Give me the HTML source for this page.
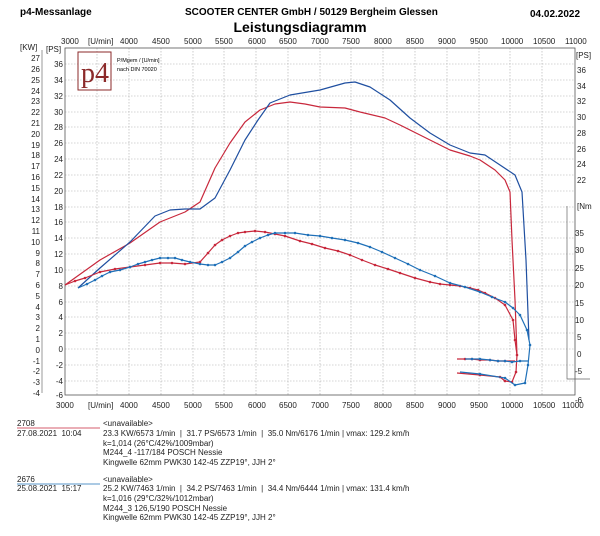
<!DOCTYPE html><html><head><meta charset="utf-8"><style>
body{margin:0;background:#fff;width:600px;height:531px;overflow:hidden;font-family:"Liberation Sans",sans-serif;}
</style></head><body>
<svg width="600" height="531" xmlns="http://www.w3.org/2000/svg" font-family="Liberation Sans, sans-serif">
<defs>
<marker id="mr" markerWidth="4" markerHeight="4" refX="2" refY="2" markerUnits="userSpaceOnUse"><circle cx="2" cy="2" r="1.3" fill="#c8283c"/></marker>
<marker id="mb" markerWidth="4" markerHeight="4" refX="2" refY="2" markerUnits="userSpaceOnUse"><circle cx="2" cy="2" r="1.3" fill="#1f70b8"/></marker>
</defs>
<text x="20" y="15" font-size="10" font-weight="bold">p4-Messanlage</text>
<text x="185" y="15" font-size="10" font-weight="bold">SCOOTER CENTER GmbH / 50129 Bergheim Glessen</text>
<text x="530" y="17" font-size="10" font-weight="bold">04.02.2022</text>
<text x="300" y="32" font-size="14" font-weight="bold" text-anchor="middle">Leistungsdiagramm</text>
<g id="grid" stroke="#aaa" stroke-width="0.6" stroke-dasharray="1.5,1.5">
<line x1="97" y1="48" x2="97" y2="395"/><line x1="129" y1="48" x2="129" y2="395"/><line x1="161" y1="48" x2="161" y2="395"/><line x1="193" y1="48" x2="193" y2="395"/><line x1="224" y1="48" x2="224" y2="395"/><line x1="256" y1="48" x2="256" y2="395"/><line x1="288" y1="48" x2="288" y2="395"/><line x1="320" y1="48" x2="320" y2="395"/><line x1="351" y1="48" x2="351" y2="395"/><line x1="383" y1="48" x2="383" y2="395"/><line x1="415" y1="48" x2="415" y2="395"/><line x1="447" y1="48" x2="447" y2="395"/><line x1="479" y1="48" x2="479" y2="395"/><line x1="510" y1="48" x2="510" y2="395"/><line x1="542" y1="48" x2="542" y2="395"/>
<line x1="65" y1="64" x2="575" y2="64"/><line x1="65" y1="80" x2="575" y2="80"/><line x1="65" y1="96" x2="575" y2="96"/><line x1="65" y1="112" x2="575" y2="112"/><line x1="65" y1="127" x2="575" y2="127"/><line x1="65" y1="143" x2="575" y2="143"/><line x1="65" y1="159" x2="575" y2="159"/><line x1="65" y1="175" x2="575" y2="175"/><line x1="65" y1="191" x2="575" y2="191"/><line x1="65" y1="207" x2="575" y2="207"/><line x1="65" y1="222" x2="575" y2="222"/><line x1="65" y1="238" x2="575" y2="238"/><line x1="65" y1="254" x2="575" y2="254"/><line x1="65" y1="270" x2="575" y2="270"/><line x1="65" y1="286" x2="575" y2="286"/><line x1="65" y1="302" x2="575" y2="302"/><line x1="65" y1="317" x2="575" y2="317"/><line x1="65" y1="333" x2="575" y2="333"/><line x1="65" y1="349" x2="575" y2="349"/><line x1="65" y1="365" x2="575" y2="365"/><line x1="65" y1="381" x2="575" y2="381"/>
</g>
<rect x="65" y="48" width="510" height="347" fill="none" stroke="#555" stroke-width="0.8"/>
<line x1="42" y1="50" x2="42" y2="393" stroke="#555" stroke-width="0.6"/>
<g font-size="8" fill="#222">
<text x="20" y="50">[KW]</text><text x="46" y="52">[PS]</text>
<text x="61" y="44">3000</text><text x="88" y="44">[U/min]</text><text x="120" y="44">4000</text><text x="152" y="44">4500</text><text x="184" y="44">5000</text><text x="215" y="44">5500</text><text x="248" y="44">6000</text><text x="279" y="44">6500</text><text x="311" y="44">7000</text><text x="342" y="44">7500</text><text x="374" y="44">8000</text><text x="406" y="44">8500</text><text x="438" y="44">9000</text><text x="470" y="44">9500</text><text x="501" y="44">10000</text><text x="533" y="44">10500</text><text x="565" y="44">11000</text>
<text x="56" y="408">3000</text><text x="88" y="408">[U/min]</text><text x="120" y="408">4000</text><text x="152" y="408">4500</text><text x="184" y="408">5000</text><text x="215" y="408">5500</text><text x="248" y="408">6000</text><text x="279" y="408">6500</text><text x="311" y="408">7000</text><text x="342" y="408">7500</text><text x="374" y="408">8000</text><text x="406" y="408">8500</text><text x="438" y="408">9000</text><text x="470" y="408">9500</text><text x="501" y="408">10000</text><text x="533" y="408">10500</text><text x="562" y="408">11000</text>
<g text-anchor="end">
<text x="40" y="61">27</text><text x="40" y="72">26</text><text x="40" y="83">25</text><text x="40" y="94">24</text><text x="40" y="104">23</text><text x="40" y="115">22</text><text x="40" y="126">21</text><text x="40" y="137">20</text><text x="40" y="148">19</text><text x="40" y="158">18</text><text x="40" y="169">17</text><text x="40" y="180">16</text><text x="40" y="191">15</text><text x="40" y="202">14</text><text x="40" y="212">13</text><text x="40" y="223">12</text><text x="40" y="234">11</text><text x="40" y="245">10</text><text x="40" y="256">9</text><text x="40" y="266">8</text><text x="40" y="277">7</text><text x="40" y="288">6</text><text x="40" y="299">5</text><text x="40" y="310">4</text><text x="40" y="320">3</text><text x="40" y="331">2</text><text x="40" y="342">1</text><text x="40" y="353">0</text><text x="40" y="364">-1</text><text x="40" y="374">-2</text><text x="40" y="385">-3</text><text x="40" y="396">-4</text>
<text x="63" y="67">36</text><text x="63" y="83">34</text><text x="63" y="99">32</text><text x="63" y="115">30</text><text x="63" y="130">28</text><text x="63" y="146">26</text><text x="63" y="162">24</text><text x="63" y="178">22</text><text x="63" y="194">20</text><text x="63" y="210">18</text><text x="63" y="225">16</text><text x="63" y="241">14</text><text x="63" y="257">12</text><text x="63" y="273">10</text><text x="63" y="289">8</text><text x="63" y="305">6</text><text x="63" y="320">4</text><text x="63" y="336">2</text><text x="63" y="352">0</text><text x="63" y="368">-2</text><text x="63" y="384">-4</text><text x="63" y="398">-6</text>
</g>
<text x="576" y="58">[PS]</text>
<text x="577" y="73">36</text><text x="577" y="89">34</text><text x="577" y="104">32</text><text x="577" y="120">30</text><text x="577" y="136">28</text><text x="577" y="152">26</text><text x="577" y="167">24</text><text x="577" y="183">22</text>
<text x="577" y="209">[Nm</text>
<text x="575" y="236">35</text><text x="575" y="253">30</text><text x="575" y="271">25</text><text x="575" y="288">20</text><text x="575" y="306">15</text><text x="575" y="323">10</text><text x="577" y="340">5</text><text x="577" y="357">0</text><text x="575" y="374">-5</text>
<text x="575" y="403">-6</text>
</g>
<polyline points="567,206 567,379 590,379" fill="none" stroke="#666" stroke-width="0.7"/>
<rect x="78" y="52" width="33" height="38" fill="none" stroke="#8b2a2a" stroke-width="1"/>
<text x="81" y="82" font-family="Liberation Serif, serif" font-size="28" fill="#8b2a2a">p4</text>
<text x="117" y="62" font-size="5.5">P/Mgem / [U/min]</text><text x="117" y="71" font-size="5.5">nach DIN 70020</text>
<g fill="none" stroke-width="1.2" stroke-linejoin="round">
<polyline stroke="#c8283c" points="65,285 100,260 130,243 160,222 185,212 200,202 215,168 230,143 245,122 260,110 275,104 290,102 305,104 320,107 345,108 360,112 385,118 400,125 420,135 450,150 470,156 480,160 495,170 505,180 510,192 512,240 515,300 517,355"/>
<polyline stroke="#1f4fa0" points="78,288 100,268 130,242 155,216 170,210 185,209 200,209 215,198 230,170 245,140 258,120 270,103 290,95 320,90 345,83 355,82 370,87 390,100 410,118 430,133 450,145 470,153 485,155 500,165 515,175 522,192 526,260 529,340"/>
<polyline stroke="#c8283c" marker-mid="url(#mr)" points="65,285 75,281 85,278 100,272 115,269 130,267 145,265 160,263 172,263 185,264 200,262 208,253 215,245 222,240 230,236 238,233 245,232 255,231 265,232 275,234 285,236 300,241 312,244 325,248 338,251 350,255 362,260 375,265 388,269 400,273 415,278 430,282 440,284 450,285 460,286 470,288 478,290 485,293 495,298 505,305 513,320 515,340 517,355 516,372 512,382 505,381 500,377 480,375 457,373"/>
<polyline stroke="#1f70b8" marker-mid="url(#mb)" points="78,288 87,284 95,280 102,276 110,272 120,270 130,267 138,264 145,262 152,260 160,258 168,258 175,258 182,260 190,262 200,264 208,265 215,265 222,262 230,258 238,252 245,246 252,242 260,238 268,235 275,233 285,233 295,233 308,235 320,236 332,238 345,240 358,243 370,247 382,252 395,258 408,264 420,270 435,276 450,283 465,287 480,292 492,297 505,302 513,308 520,315 527,330 530,345 528,365 525,383 515,385 505,378 480,374 460,372"/>
<polyline stroke="#c8283c" marker-mid="url(#mr)" points="457,359 465,359 472,359 480,360 490,360 498,361 505,361 515,361"/>
<polyline stroke="#1f70b8" marker-mid="url(#mb)" points="465,359 472,359 480,359 490,360 498,361 505,361 512,362 520,361 528,361"/>
</g>
<g font-size="8" fill="#222">
<text x="17" y="426">2708</text><text x="17" y="436">27.08.2021&#160;&#160;10:04</text>
<line x1="17" y1="428" x2="100" y2="428" stroke="#c8283c" stroke-width="0.8"/>
<text x="103" y="426">&lt;unavailable&gt;</text>
<text x="103" y="436">23.3 KW/6573 1/min&#160; | &#160;31.7 PS/6573 1/min&#160; | &#160;35.0 Nm/6176 1/min | vmax: 129.2 km/h</text>
<text x="103" y="446">k=1,014 (26°C/42%/1009mbar)</text>
<text x="103" y="455">M244_4 -117/184 POSCH Nessie</text>
<text x="103" y="465">Kingwelle 62mm PWK30 142-45 ZZP19°, JJH 2°</text>
<text x="17" y="482">2676</text><text x="17" y="491">25.08.2021&#160;&#160;15:17</text>
<line x1="17" y1="484" x2="100" y2="484" stroke="#1f70b8" stroke-width="0.8"/>
<text x="103" y="482">&lt;unavailable&gt;</text>
<text x="103" y="491">25.2 KW/7463 1/min&#160; | &#160;34.2 PS/7463 1/min&#160; | &#160;34.4 Nm/6444 1/min | vmax: 131.4 km/h</text>
<text x="103" y="501">k=1,016 (29°C/32%/1012mbar)</text>
<text x="103" y="511">M244_3 126,5/190 POSCH Nessie</text>
<text x="103" y="520">Kingwelle 62mm PWK30 142-45 ZZP19°, JJH 2°</text>
</g>
</svg>
</body></html>
